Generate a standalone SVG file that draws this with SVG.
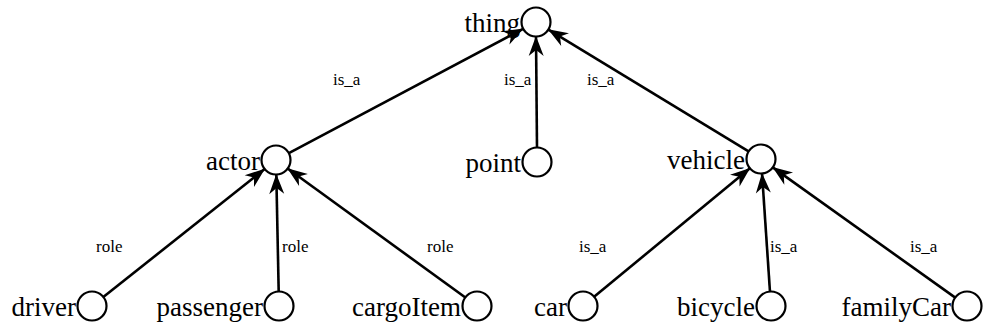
<svg xmlns="http://www.w3.org/2000/svg" width="983" height="329" viewBox="0 0 983 329">
<style>
.node circle{fill:#fff;stroke:#000;stroke-width:2.2}
.node text{font-family:'Liberation Serif','Times New Roman',Times,serif;font-size:27px;fill:#000;text-anchor:end}
.edges line{stroke:#000;stroke-width:2.6;marker-end:url(#arr)}
.edges text{font-family:'Liberation Serif','Times New Roman',Times,serif;font-size:17px;fill:#000}
</style>
<defs>
<marker id="arr" markerUnits="userSpaceOnUse" viewBox="-21 -8 22 16" refX="0" refY="0" markerWidth="22" markerHeight="16" orient="auto">
<path d="M0,0 L-20,-7.5 L-14,0 L-20,7.5 Z" fill="#000"/>
</marker>
</defs>
<rect width="983" height="329" fill="#fff"/>
<g class="edges">
<line x1="288.4" y1="153.4" x2="523.6" y2="28.6"/>
<line x1="537" y1="148" x2="536" y2="36"/>
<line x1="749" y1="151.7" x2="548" y2="29.3"/>
<line x1="103" y1="297.3" x2="265" y2="168.7"/>
<line x1="278.7" y1="292" x2="276.3" y2="174"/>
<line x1="465.7" y1="297.8" x2="287.3" y2="168.2"/>
<line x1="593.8" y1="297.1" x2="750.2" y2="167.9"/>
<line x1="770" y1="292" x2="762" y2="173"/>
<line x1="955.6" y1="297.9" x2="772.4" y2="167.1"/>
<text x="333" y="85">is_a</text>
<text x="504" y="85">is_a</text>
<text x="587" y="85">is_a</text>
<text x="96" y="252">role</text>
<text x="282" y="252">role</text>
<text x="427" y="252">role</text>
<text x="579" y="252">is_a</text>
<text x="770" y="252">is_a</text>
<text x="910" y="252">is_a</text>
</g>
<g id="thing" class="node"><circle cx="536" cy="22" r="14.5"/><text x="520" y="32">thing</text></g>
<g id="actor" class="node"><circle cx="276" cy="160" r="14.5"/><text x="260" y="170">actor</text></g>
<g id="point" class="node"><circle cx="537" cy="162" r="14.5"/><text x="521" y="172">point</text></g>
<g id="vehicle" class="node"><circle cx="761" cy="159" r="14.5"/><text x="745" y="169">vehicle</text></g>
<g id="driver" class="node"><circle cx="92" cy="306" r="14.5"/><text x="76" y="316">driver</text></g>
<g id="passenger" class="node"><circle cx="279" cy="306" r="14.5"/><text x="263" y="316">passenger</text></g>
<g id="cargoItem" class="node"><circle cx="477" cy="306" r="14.5"/><text x="461" y="316">cargoItem</text></g>
<g id="car" class="node"><circle cx="583" cy="306" r="14.5"/><text x="567" y="316">car</text></g>
<g id="bicycle" class="node"><circle cx="771" cy="306" r="14.5"/><text x="755" y="316">bicycle</text></g>
<g id="familyCar" class="node"><circle cx="967" cy="306" r="14.5"/><text x="951" y="316">familyCar</text></g>
</svg>
